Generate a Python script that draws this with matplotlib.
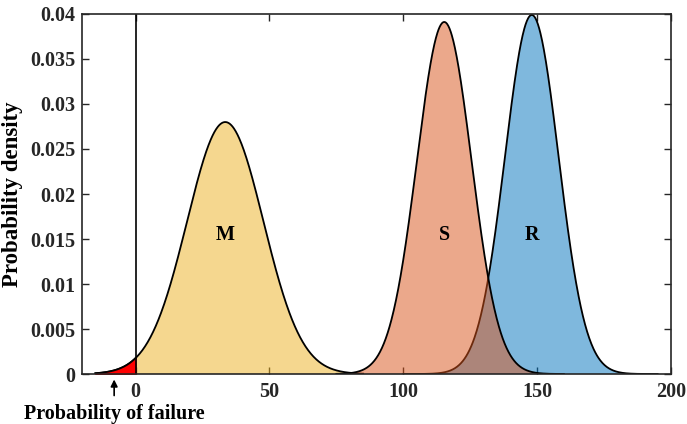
import numpy as np
import matplotlib
matplotlib.use("Agg")
import matplotlib.pyplot as plt

# distribution parameters
names = ["M", "S", "R"]
means = [33.5, 115.3, 148.0]
stds = [14.25, 10.2, 10.0]
x_from = [-15, 75, 100]
x_to = [85, 160, 195]
colors = [(0.929, 0.694, 0.125), (0.850, 0.325, 0.098), (0.0, 0.447, 0.741)]
layer = [2, 6, 4]
label_y = 0.0155

plt.rcParams["font.family"] = ["Liberation Serif", "DejaVu Serif"]
plt.rcParams["font.weight"] = "bold"

fig = plt.figure(figsize=(6.87, 4.24), dpi=100)
ax = fig.add_axes([0.1194, 0.1179, 0.8573, 0.8491])

def pdf(x, m, s):
    return np.exp(-0.5 * ((x - m) / s) ** 2) / (s * np.sqrt(2 * np.pi))

for i in range(3):
    x = np.linspace(x_from[i], x_to[i], 600)
    y = pdf(x, means[i], stds[i])
    ax.fill_between(x, 0, y, facecolor=colors[i], alpha=0.5, edgecolor="none", zorder=layer[i])
    ax.plot(x, y, color="black", lw=1.3, zorder=layer[i] + 0.5)
    ax.text(means[i], label_y, names[i], ha="center", va="center", fontsize=14.5,
            fontweight="bold", zorder=10)

# probability of failure region
xf = np.linspace(x_from[0], 0, 200)
ax.fill_between(xf, 0, pdf(xf, means[0], stds[0]), color="red", zorder=3)
ax.plot(xf, pdf(xf, means[0], stds[0]), color="black", lw=1.3, zorder=3.5)

ax.axvline(0, color="black", lw=1.2, zorder=8)

ax.set_xlim(-20, 200)
ax.set_ylim(0, 0.04)
ax.set_xticks([0, 50, 100, 150, 200])
ax.set_yticks([0, 0.005, 0.01, 0.015, 0.02, 0.025, 0.03, 0.035, 0.04])
ax.set_yticklabels(["0", "0.005", "0.01", "0.015", "0.02", "0.025", "0.03", "0.035", "0.04"])
ax.tick_params(direction="in", top=True, right=True, length=5, width=1, pad=5,
               labelsize=14.5, color="#262626", labelcolor="#262626")
ax.tick_params(axis="x", pad=6)
for sp in ax.spines.values():
    sp.set_linewidth(1.2)
    sp.set_color("#262626")
    sp.set_zorder(20)

ax.set_ylabel("Probability density", fontsize=16.5, fontweight="bold")
ax.yaxis.set_label_coords(-0.101, 0.5)

ax.annotate("", xy=(-8, -0.0003), xytext=(-8, -0.0027), xycoords="data",
            arrowprops=dict(arrowstyle="-|>", color="black", lw=1.2, mutation_scale=10),
            annotation_clip=False)
ax.text(-8, -0.0033, "Probability of failure", ha="center", va="top",
        fontsize=14.5, fontweight="bold", clip_on=False)

fig.savefig("out.png", dpi=100)
